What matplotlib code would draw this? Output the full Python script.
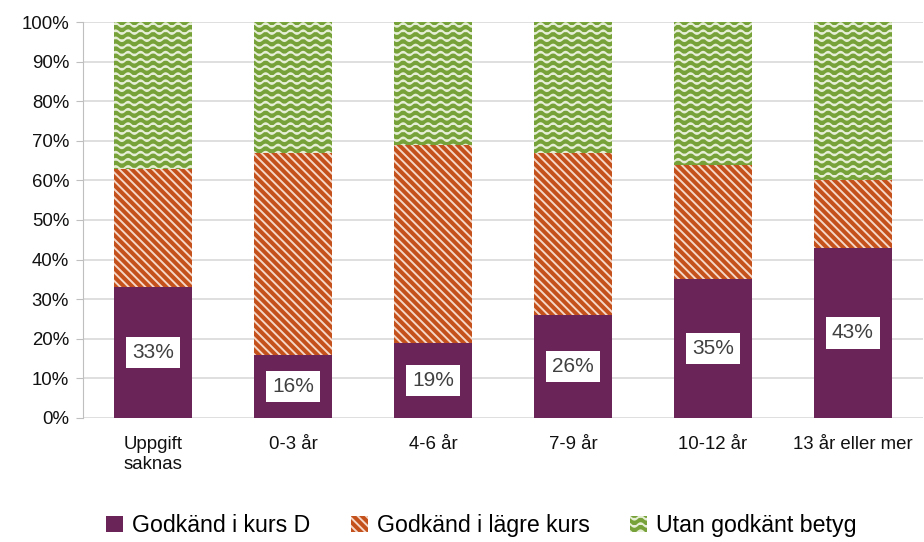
import warnings
warnings.filterwarnings("ignore")
import numpy as np
import matplotlib
matplotlib.use("Agg")
import matplotlib.pyplot as plt
import matplotlib.hatch as mhatch
from matplotlib.path import Path

categories = ["Uppgift\nsaknas", "0-3 år", "4-6 år", "7-9 år", "10-12 år", "13 år eller mer"]
godkand_d = [33, 16, 19, 26, 35, 43]
godkand_lagre = [30, 51, 50, 41, 29, 17]
utan_betyg = [37, 33, 31, 33, 36, 40]
series_names = ["Godkänd i kurs D", "Godkänd i lägre kurs", "Utan godkänt betyg"]
yticks = [0, 10, 20, 30, 40, 50, 60, 70, 80, 90, 100]


class WaveHatch(mhatch.HatchPatternBase):
    def __init__(self, hatch, density):
        self.num_rows = int(hatch.count('~') * 7)
        self.npts = 97
        self.num_vertices = self.num_rows * self.npts

    def set_vertices_and_codes(self, vertices, codes):
        x = np.linspace(0, 1, self.npts)
        cursor = 0
        for i in range(self.num_rows):
            y0 = (i + 0.5) / self.num_rows
            y = y0 + 0.018 * np.sin(2 * np.pi * 8 * x)
            vertices[cursor:cursor + self.npts, 0] = x
            vertices[cursor:cursor + self.npts, 1] = y
            codes[cursor] = Path.MOVETO
            codes[cursor + 1:cursor + self.npts] = Path.LINETO
            cursor += self.npts


mhatch._hatch_types.append(WaveHatch)

plt.rcParams['font.family'] = ['Liberation Sans', 'DejaVu Sans']
plt.rcParams['hatch.linewidth'] = 1.4

fig = plt.figure(figsize=(9.24, 5.42), dpi=100)
ax = fig.add_axes([0.0898, 0.2288, 0.909, 0.7306])

x = np.arange(len(categories))
w = 0.56
purple = '#6B2458'
orange = '#C4501C'
green = '#77A23A'

b1 = ax.bar(x, godkand_d, w, color=purple, edgecolor=purple, linewidth=0, zorder=3, label=series_names[0])
b2 = ax.bar(x, godkand_lagre, w, bottom=godkand_d, color=orange, edgecolor='#F6D8C8',
            hatch='\\\\\\\\', linewidth=0, zorder=3, label=series_names[1])
bot3 = [a + b for a, b in zip(godkand_d, godkand_lagre)]
b3 = ax.bar(x, utan_betyg, w, bottom=bot3, color=green, edgecolor='#E6EFD6',
            hatch='~~', linewidth=0, zorder=3, label=series_names[2])

for xi, v in zip(x, godkand_d):
    ax.text(xi, v / 2, f"{v}%", ha='center', va='center', fontsize=15, color='#404040',
            zorder=5, bbox=dict(boxstyle='square,pad=0.3', fc='white', ec='none'))

ax.set_xlim(-0.5, len(categories) - 0.5)
ax.set_ylim(0, 100)
ax.set_yticks(yticks)
ax.set_yticklabels([f"{t}%" for t in yticks], fontsize=13.4, color='#111111')
ax.set_xticks(x)
ax.set_xticklabels(categories, fontsize=13.4, color='#111111')
ax.tick_params(axis='x', length=0, pad=13)
ax.tick_params(axis='y', length=5, color='#BFBFBF', pad=5)
ax.yaxis.grid(True, color='#D9D9D9', linewidth=1.2, zorder=0)
ax.set_axisbelow(True)
for s in ['top', 'right', 'bottom']:
    ax.spines[s].set_visible(False)
ax.spines['left'].set_color('#BFBFBF')

fig.legend(handles=[b1, b2, b3], labels=series_names, loc='center',
           bbox_to_anchor=(0.521, 0.03), ncol=3, frameon=False, fontsize=16.7,
           handlelength=0.72, handleheight=0.72, handletextpad=0.4, columnspacing=1.75,
           borderpad=0.1)

fig.savefig('out.png', dpi=100)
